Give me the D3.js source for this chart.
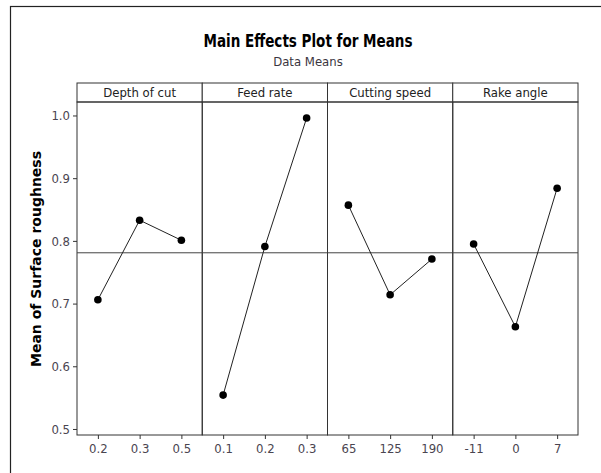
<!DOCTYPE html>
<html><head>
<meta charset="utf-8">
<script src="https://d3js.org/d3.v7.min.js"></script>
<style>
  body { margin: 0; background: #fff; }
  .tick text { font-family: "DejaVu Sans Condensed", "DejaVu Sans", sans-serif; font-size: 13px; fill: #4a4550; }
  .tick line { stroke: #333; }
  .domain { stroke: none; }
</style>
</head>
<body>
<svg id="chart" width="601" height="473"></svg>
<script>
  // factors and their levels
  const factors = ["Depth of cut", "Feed rate", "Cutting speed", "Rake angle"];
  const levels = [
    ["0.2", "0.3", "0.5"],
    ["0.1", "0.2", "0.3"],
    ["65", "125", "190"],
    ["-11", "0", "7"]
  ];
  // mean of surface roughness at each level
  const means = [
    [0.706, 0.833, 0.801],
    [0.554, 0.791, 0.996],
    [0.857, 0.714, 0.771],
    [0.795, 0.663, 0.884]
  ];
  const grandMean = 0.781;
  const yTicks = [0.5, 0.6, 0.7, 0.8, 0.9, 1.0];

  const svg = d3.select("svg#chart");
  const margin = {left: 77, right: 23, top: 102, bottom: 38};
  const headerH = 19;
  const plotW = 601 - margin.left - margin.right;
  const plotH = 473 - margin.top - margin.bottom;
  const panelW = plotW / factors.length;

  // outer frame
  svg.append("rect")
    .attr("x", 10.5).attr("y", 6.5)
    .attr("width", 600).attr("height", 480)
    .attr("fill", "none").attr("stroke", "#222").attr("stroke-width", 1.2);

  // titles
  svg.append("text")
    .attr("x", 308).attr("y", 47)
    .attr("text-anchor", "middle")
    .style("font-family", "'Liberation Sans Narrow', 'DejaVu Sans Condensed', sans-serif")
    .style("font-weight", "bold").style("font-size", "18px")
    .attr("textLength", 209).attr("lengthAdjust", "spacingAndGlyphs")
    .text("Main Effects Plot for Means");
  svg.append("text")
    .attr("x", 308).attr("y", 66)
    .attr("text-anchor", "middle")
    .style("font-family", "'DejaVu Sans Condensed', sans-serif")
    .style("font-size", "13px").style("fill", "#3a3540")
    .text("Data Means");

  const y = d3.scaleLinear()
    .domain([0.4904, 1.0215])
    .range([margin.top + plotH, margin.top]);

  // y axis label
  svg.append("text")
    .attr("transform", "translate(41," + ((margin.top - headerH + margin.top + plotH) / 2) + ") rotate(-90)")
    .attr("text-anchor", "middle")
    .style("font-family", "'DejaVu Sans', sans-serif")
    .style("font-weight", "bold").style("font-size", "14px")
    .text("Mean of Surface roughness");

  // y axis
  svg.append("g")
    .attr("transform", "translate(" + margin.left + ",0)")
    .call(d3.axisLeft(y).tickValues(yTicks).tickFormat(d3.format(".1f")).tickSize(4).tickPadding(3));

  factors.forEach((f, i) => {
    const x0 = margin.left + i * panelW;
    const x = d3.scalePoint().domain(levels[i]).range([0, panelW]).padding(0.5);
    const g = svg.append("g").attr("transform", "translate(" + x0 + ",0)");

    // x axis
    g.append("g")
      .attr("transform", "translate(0," + (margin.top + plotH) + ")")
      .call(d3.axisBottom(x).tickSize(4).tickPadding(5));

    // header cell
    g.append("rect")
      .attr("x", 0).attr("y", margin.top - headerH)
      .attr("width", panelW).attr("height", headerH)
      .attr("fill", "#fff").attr("stroke", "#333");
    g.append("text")
      .attr("x", panelW / 2).attr("y", margin.top - 5)
      .attr("text-anchor", "middle")
      .style("font-family", "'DejaVu Sans Condensed', sans-serif")
      .style("font-size", "13px").style("fill", "#222")
      .text(f);

    // panel frame
    g.append("rect")
      .attr("x", 0).attr("y", margin.top)
      .attr("width", panelW).attr("height", plotH)
      .attr("fill", "none").attr("stroke", "#333");

    // grand mean reference line
    g.append("line")
      .attr("x1", 0).attr("x2", panelW)
      .attr("y1", y(grandMean)).attr("y2", y(grandMean))
      .attr("stroke", "#444");

    const pts = levels[i].map((l, j) => ({l: l, v: means[i][j]}));
    g.append("path")
      .datum(pts)
      .attr("fill", "none").attr("stroke", "#222").attr("stroke-width", 1)
      .attr("d", d3.line().x(d => x(d.l)).y(d => y(d.v)));
    g.selectAll("circle")
      .data(pts)
      .join("circle")
      .attr("cx", d => x(d.l)).attr("cy", d => y(d.v))
      .attr("r", 3.8).attr("fill", "#000");
  });
</script>
</body>
</html>
